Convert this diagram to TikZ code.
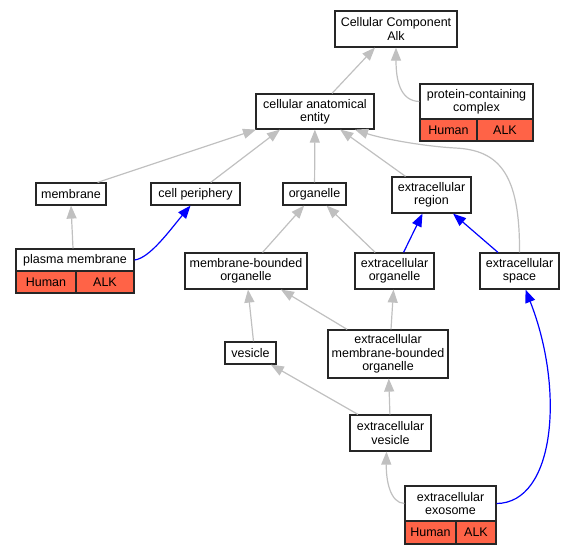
\documentclass[tikz,border=0pt]{standalone}
\usepackage{fontspec}
\setmainfont{Liberation Sans}
\usepackage{tikz}
\usetikzlibrary{arrows.meta}
\usetikzlibrary{positioning}
\definecolor{Tomato}{HTML}{FF6347}
\definecolor{EdgeGray}{HTML}{C0C0C0}

\begin{document}
\begin{tikzpicture}[x=1pt, y=-1pt]
    \tikzstyle{term}=[rectangle, draw=black!85, line width=1.2pt, fill=white, inner sep=0pt, align=center, font=\fontsize{12.5}{13.3}\selectfont]
    \tikzstyle{gene}=[term, fill=Tomato]
    \tikzstyle{isa}=[-{Triangle[length=13pt, width=10pt]}, line width=1.2pt, color=EdgeGray]
    \tikzstyle{partof}=[-{Triangle[length=13pt, width=10pt]}, line width=1.2pt, color=blue]

    \useasboundingbox (0,0) rectangle (576,555);

    \node[term, minimum width=122pt, minimum height=36pt] (cellular-component) at (396,29) {Cellular Component\\Alk};

    \node[term, minimum width=113pt, minimum height=35pt] (protein-complex) at (476.5,101.5) {protein-containing\\complex};
    \node[gene, minimum width=57pt, minimum height=22pt] (protein-complex-human) at (448.5,130) {Human};
    \node[gene, minimum width=56pt, minimum height=22pt] (protein-complex-alk) at (505,130) {ALK};

    \node[term, minimum width=118pt, minimum height=35pt] (anatomical-entity) at (315,111.5) {cellular anatomical\\entity};

    \node[term, minimum width=70pt, minimum height=22pt] (membrane) at (71,194) {membrane};
    \node[term, minimum width=89pt, minimum height=22pt] (cell-periphery) at (195.5,194) {cell periphery};
    \node[term, minimum width=63pt, minimum height=22pt] (organelle) at (314.5,194) {organelle};
    \node[term, minimum width=79pt, minimum height=36pt] (extracellular-region) at (431.5,195) {extracellular\\region};

    \node[term, minimum width=118pt, minimum height=22pt] (plasma-membrane) at (75,260) {plasma membrane};
    \node[gene, minimum width=60pt, minimum height=22pt] (plasma-membrane-human) at (46,282) {Human};
    \node[gene, minimum width=58pt, minimum height=22pt] (plasma-membrane-alk) at (105,282) {ALK};

    \node[term, minimum width=122pt, minimum height=36pt] (bounded-organelle) at (246,271) {membrane-bounded\\organelle};
    \node[term, minimum width=79pt, minimum height=36pt] (extracellular-organelle) at (394.5,271) {extracellular\\organelle};
    \node[term, minimum width=79pt, minimum height=36pt] (extracellular-space) at (519.5,271) {extracellular\\space};

    \node[term, minimum width=51pt, minimum height=22pt] (vesicle) at (250.5,353) {vesicle};
    \node[term, minimum width=120pt, minimum height=48pt] (extracellular-bounded) at (388,354) {extracellular\\membrane-bounded\\organelle};

    \node[term, minimum width=81pt, minimum height=36pt] (extracellular-vesicle) at (390.5,433) {extracellular\\vesicle};

    \node[term, minimum width=91pt, minimum height=35pt] (exosome) at (450.5,503.5) {extracellular\\exosome};
    \node[gene, minimum width=51pt, minimum height=23pt] (exosome-human) at (430.5,532.5) {Human};
    \node[gene, minimum width=40pt, minimum height=23pt] (exosome-alk) at (476,532.5) {ALK};

    % is_a
    \draw[isa] (anatomical-entity) -- ([xshift=-21pt]cellular-component.south);
    \draw[isa] (protein-complex.west) .. controls (400,101) and (396,80) .. (cellular-component.south);
    \draw[isa] ([xshift=-9pt]membrane.north east) -- ([xshift=-59pt]anatomical-entity.south);
    \draw[isa] (cell-periphery) -- ([xshift=-35pt]anatomical-entity.south);
    \draw[isa] (organelle) -- (anatomical-entity);
    \draw[isa] (extracellular-region) -- (anatomical-entity);
    \draw[isa] (extracellular-space.north) .. controls (520,175) and (500,150) .. (455,148) .. controls (420,146) and (380,138) .. ([xshift=40pt]anatomical-entity.south);
    \draw[isa] ([xshift=-2pt]plasma-membrane.north) -- (membrane.south);
    \draw[isa] (bounded-organelle) -- (organelle);
    \draw[isa] (extracellular-organelle) -- (organelle);
    \draw[isa] ([xshift=3pt]vesicle.north) -- ([xshift=2pt]bounded-organelle.south);
    \draw[isa] (extracellular-bounded) -- ([xshift=35pt]bounded-organelle.south);
    \draw[isa] ([xshift=3pt]extracellular-bounded.north) -- ([xshift=-1pt]extracellular-organelle.south);
    \draw[isa] (extracellular-vesicle) -- (vesicle);
    \draw[isa] (extracellular-vesicle) -- (extracellular-bounded);
    \draw[isa] (exosome.west) .. controls (390,503) and (386,480) .. ([xshift=-4pt]extracellular-vesicle.south);

    % part_of
    \draw[partof] (plasma-membrane.east) .. controls (150,258) and (170,230) .. ([xshift=-5pt]cell-periphery.south);
    \draw[partof] (extracellular-organelle) -- ([xshift=-9pt]extracellular-region.south);
    \draw[partof] (extracellular-space) -- (extracellular-region);
    \draw[partof] (exosome.east) .. controls (555,503) and (565,390) .. ([xshift=6pt]extracellular-space.south);
\end{tikzpicture}
\end{document}
